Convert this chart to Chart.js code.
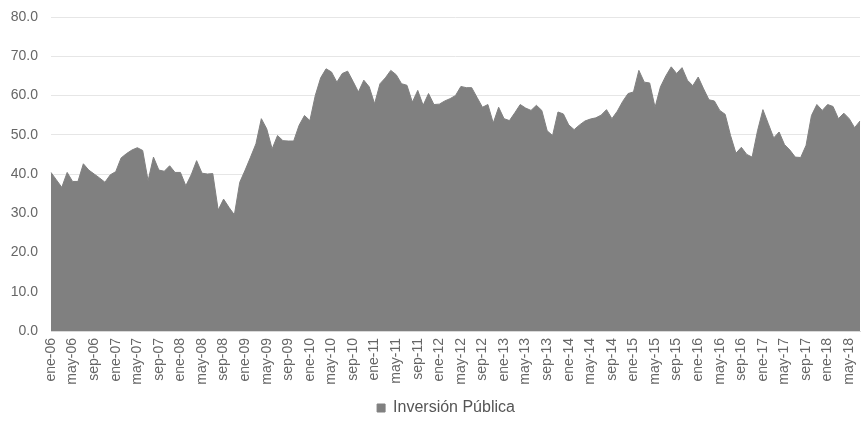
<!DOCTYPE html>
<html>
<head>
<meta charset="utf-8">
<script src="https://cdn.jsdelivr.net/npm/chart.js@4"></script>
<style>
  html, body { margin: 0; padding: 0; background: #fff; }
  #wrap { width: 861px; height: 423px; }
</style>
</head>
<body>
<div id="wrap"><canvas id="areaChart" width="861" height="423"></canvas></div>
<script>
// monthly categories ene-06 .. jul-18
const months = ['ene', 'feb', 'mar', 'abr', 'may', 'jun', 'jul', 'ago', 'sep', 'oct', 'nov', 'dic'];
const years = ['06', '07', '08', '09', '10', '11', '12', '13', '14', '15', '16', '17', '18'];
const lastMonth = 7; // jul-18

const labels = [];
years.forEach((yy, yi) => {
  const n = yi === years.length - 1 ? lastMonth : 12;
  for (let m = 0; m < n; m++) labels.push(months[m] + '-' + yy);
});

// Inversión Pública, one value per month
const inversionPublica = [
  40.4, 38.5, 36.6, 40.4, 38.1, 38.1, 42.6, 41.0, 40.0, 39.0, 37.9, 39.8,
  40.6, 44.1, 45.2, 46.1, 46.7, 46.0, 38.3, 44.3, 41.0, 40.7, 42.1, 40.4,
  40.4, 37.0, 39.8, 43.4, 40.2, 40.0, 40.1, 30.8, 33.6, 31.5, 29.6, 37.9,
  41.0, 44.3, 47.7, 54.1, 51.5, 46.4, 49.8, 48.5, 48.4, 48.4, 52.4, 54.9,
  53.6, 60.0, 64.5, 66.8, 66.0, 63.4, 65.6, 66.2, 63.6, 60.9, 63.9, 62.2,
  57.9, 63.0, 64.5, 66.4, 65.3, 63.0, 62.6, 58.3, 61.3, 57.5, 60.5, 57.7,
  57.8, 58.6, 59.2, 60.0, 62.3, 62.0, 62.0, 59.5, 57.0, 57.7, 53.0, 57.0,
  54.1, 53.6, 55.6, 57.7, 56.8, 56.2, 57.5, 56.2, 51.0, 49.8, 55.8, 55.3,
  52.5, 51.3, 52.5, 53.5, 54.0, 54.3, 55.0, 56.4, 54.1, 56.0, 58.5, 60.5,
  60.9, 66.4, 63.4, 63.2, 57.0, 62.2, 65.0, 67.3, 65.6, 67.1, 63.9, 62.5,
  64.7, 61.7, 58.9, 58.6, 56.2, 55.2, 49.8, 45.3, 46.8, 45.0, 44.3, 51.0,
  56.4, 52.8, 49.2, 50.7, 47.5, 46.1, 44.3, 44.2, 47.3, 54.9, 57.7, 56.2,
  57.7, 57.2, 54.1, 55.5, 54.1, 51.8, 53.5
];

const labelEvery = 4;
const yTicks = [0, 10, 20, 30, 40, 50, 60, 70, 80];

const fontFamily = '"Liberation Sans", Arial, sans-serif';
const textColor = '#666666';

// the legend sits a little right of centre and close to the bottom edge
const legendShift = {
  id: 'legendShift',
  afterLayout(chart) {
    if (!chart.legend) return;
    chart.legend.left += 16;
    chart.legend.right += 16;
    chart.legend.top += 3;
    chart.legend.bottom += 3;
  },
};

const ctx = document.getElementById('areaChart').getContext('2d');
new Chart(ctx, {
  type: 'line',
  data: {
    labels: labels,
    datasets: [{
      label: 'Inversión Pública',
      data: inversionPublica,
      backgroundColor: '#808080',
      borderColor: '#808080',
      borderWidth: 1,
      pointRadius: 0,
      tension: 0,
      fill: 'origin',
    }],
  },
  plugins: [legendShift],
  options: {
    responsive: false,
    animation: false,
    layout: { padding: { top: 17, right: 1, bottom: 0, left: 0 } },
    plugins: {
      tooltip: { enabled: false },
      legend: {
        position: 'bottom',
        labels: {
          boxWidth: 8,
          boxHeight: 8,
          padding: 3,
          color: '#555',
          font: { family: fontFamily, size: 16 },
        },
      },
    },
    scales: {
      x: {
        offset: false,
        grid: { display: false, drawTicks: false },
        border: { display: true, color: '#d9d9d9', width: 1 },
        ticks: {
          autoSkip: false,
          minRotation: 90,
          maxRotation: 90,
          padding: 7,
          color: textColor,
          font: { family: fontFamily, size: 14 },
          callback: function (value, index) {
            return index % labelEvery === 0 ? labels[index] : '';
          },
        },
        afterFit: function (scale) {
          scale.height = 63;
          scale.paddingLeft = 0;
          scale.paddingRight = 0;
        },
      },
      y: {
        min: 0,
        max: 80,
        afterBuildTicks: function (scale) {
          scale.ticks = yTicks.map(v => ({ value: v }));
        },
        grid: { color: '#e6e6e6', lineWidth: 1, drawTicks: false },
        border: { display: false },
        ticks: {
          padding: 13,
          color: textColor,
          font: { family: fontFamily, size: 14 },
          callback: function (value) { return value.toFixed(1); },
        },
        afterFit: function (scale) {
          scale.width = 51;
          scale.paddingTop = 0;
        },
      },
    },
  },
});
</script>
</body>
</html>
